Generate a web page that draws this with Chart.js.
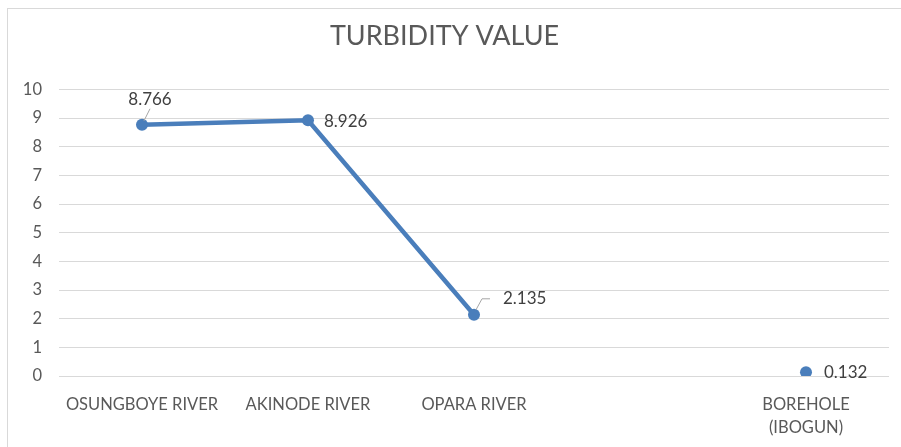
<!DOCTYPE html>
<html>
<head>
    <title>Turbidity Value</title>
    <script src="https://cdn.jsdelivr.net/npm/chart.js"></script>
    <style>
        body { margin: 0; background: #fff; }
        #frame { position: absolute; left: 7px; top: 8px; width: 900px; height: 445px; border: 1px solid #d9d9d9; border-right: none; border-bottom: none; }
        #chart-container { position: absolute; left: 0; top: 0; width: 901px; height: 447px; }
    </style>
</head>
<body>
    <div id="frame"></div>
    <div id="chart-container">
        <canvas id="turbidityChart"></canvas>
    </div>

    <script>
    // 数値
    const sites = ['OSUNGBOYE RIVER', 'AKINODE RIVER', 'OPARA RIVER', '', ['BOREHOLE', '(IBOGUN)']];
    const turbidity = [8.766, 8.926, 2.135, null, 0.132];
    const yTicks = [0, 1, 2, 3, 4, 5, 6, 7, 8, 9, 10];

    const FONT = 'Lato, "Liberation Sans", sans-serif';

    // ラベルの位置 (点からのずれ)
    const labelOffsets = [
        { dx: 0, dy: -25, leader: true },
        { dx: 16, dy: 1, leader: false },
        { dx: 29, dy: -16, leader: true },
        null,
        { dx: 18, dy: 0, leader: false }
    ];

    const dataLabels = {
        id: 'dataLabels',
        afterDatasetsDraw(chart) {
            const ctx = chart.ctx;
            const meta = chart.getDatasetMeta(0);
            ctx.save();
            ctx.font = '17px ' + FONT;
            ctx.fillStyle = '#404040';
            ctx.textBaseline = 'middle';
            meta.data.forEach((pt, i) => {
                const v = turbidity[i];
                const off = labelOffsets[i];
                if (v === null || !off) return;
                const tx = pt.x + off.dx;
                const ty = pt.y + off.dy;
                const text = String(v);
                if (off.leader) {
                    ctx.strokeStyle = '#a6a6a6';
                    ctx.lineWidth = 1;
                    ctx.beginPath();
                    if (i === 0) {
                        ctx.moveTo(pt.x + 2, pt.y - 4);
                        ctx.lineTo(pt.x + 8, pt.y - 16);
                    } else {
                        ctx.moveTo(pt.x + 2, pt.y - 5);
                        ctx.lineTo(pt.x + 8, pt.y - 16);
                        ctx.lineTo(pt.x + 16, pt.y - 16);
                    }
                    ctx.stroke();
                }
                if (i === 0) {
                    ctx.textAlign = 'center';
                    ctx.fillText(text, tx + 8, ty);
                } else {
                    ctx.textAlign = 'left';
                    ctx.fillText(text, tx, ty);
                }
            });
            ctx.restore();
        }
    };

    function createChart() {
        const canvas = document.getElementById('turbidityChart');
        new Chart(canvas, {
            type: 'line',
            data: {
                labels: sites,
                datasets: [{
                    label: 'Turbidity',
                    data: turbidity,
                    borderColor: '#4a7ebb',
                    backgroundColor: '#4a7ebb',
                    borderWidth: 4.5,
                    pointRadius: 6,
                    pointBorderWidth: 0,
                    spanGaps: false,
                    tension: 0
                }]
            },
            options: {
                responsive: false,
                animation: false,
                layout: { padding: { left: 0, right: 12, top: 0, bottom: 0 } },
                plugins: {
                    legend: { display: false },
                    tooltip: { enabled: false },
                    title: {
                        display: true,
                        text: 'TURBIDITY VALUE',
                        color: '#595959',
                        font: { family: FONT, size: 27, weight: 'normal' },
                        padding: { top: 20, bottom: 37 }
                    }
                },
                scales: {
                    x: {
                        offset: true,
                        grid: { display: false },
                        border: { display: false },
                        ticks: {
                            color: '#595959',
                            font: { family: FONT, size: 16.5, lineHeight: 1.4 },
                            padding: 9,
                            maxRotation: 0,
                            autoSkip: false
                        },
                        afterFit(scale) { scale.height = 71; }
                    },
                    y: {
                        min: 0,
                        max: 10,
                        afterBuildTicks(scale) { scale.ticks = yTicks.map(v => ({ value: v })); },
                        grid: { color: '#d9d9d9', lineWidth: 1, drawTicks: false },
                        border: { display: false },
                        ticks: {
                            color: '#595959',
                            font: { family: FONT, size: 16.5 },
                            padding: 17
                        },
                        afterFit(scale) { scale.width = 59; }
                    }
                }
            },
            plugins: [dataLabels]
        });
    }

    window.onload = () => {
        const canvas = document.getElementById('turbidityChart');
        canvas.width = 901;
        canvas.height = 447;
        createChart();
    };
    </script>
</body>
</html>
